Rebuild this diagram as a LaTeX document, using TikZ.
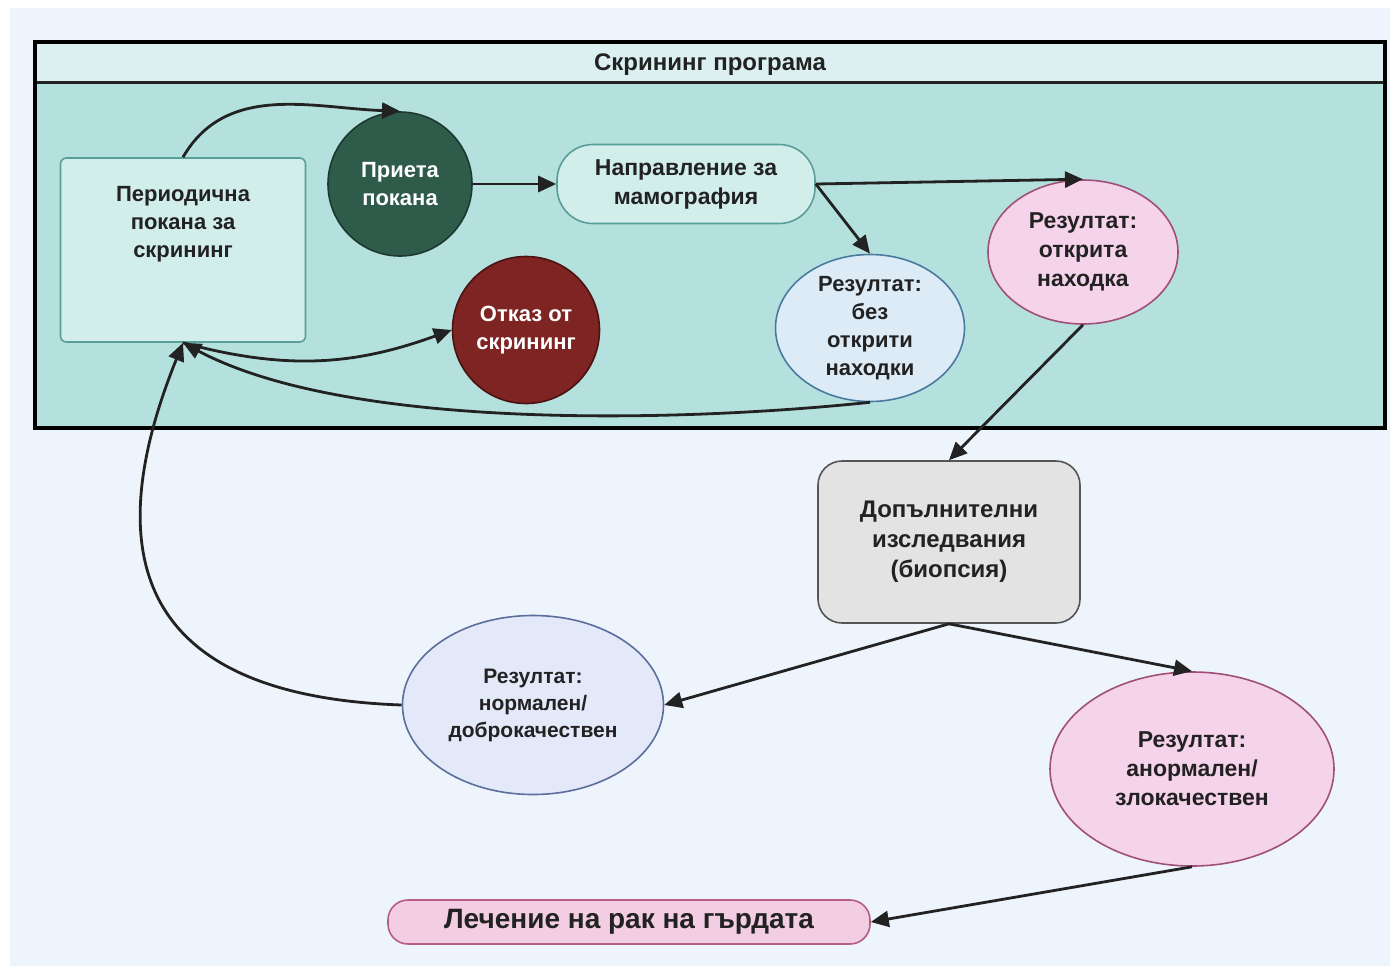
\documentclass[tikz,border=0pt]{standalone}
\usepackage{fontspec}
\setmainfont{Liberation Sans}
\usetikzlibrary{arrows.meta,shapes.geometric}
\definecolor{pagebg}{HTML}{EDF4FB}
\definecolor{bandbg}{HTML}{DCF0F1}
\definecolor{areabg}{HTML}{B4E1DD}
\definecolor{mintfill}{HTML}{D2EEEA}
\definecolor{mintline}{HTML}{5A9E98}
\definecolor{pinefill}{HTML}{2E5B4A}
\definecolor{pineline}{HTML}{1E3A30}
\definecolor{wine}{HTML}{7E2523}
\definecolor{wineline}{HTML}{4A1212}
\definecolor{skyfill}{HTML}{DDEBF7}
\definecolor{skyline}{HTML}{4A7AA0}
\definecolor{rosefill}{HTML}{F5D3EA}
\definecolor{roseline}{HTML}{A05078}
\definecolor{greyfill}{HTML}{E3E3E3}
\definecolor{greyline}{HTML}{555555}
\definecolor{lilacfill}{HTML}{E3E9F8}
\definecolor{lilacline}{HTML}{5B6E9C}
\definecolor{curefill}{HTML}{F3CDE2}
\definecolor{cureline}{HTML}{B55C88}
\definecolor{ink}{HTML}{222222}
\tikzset{
  txt/.style={font=\bfseries\fontsize{11}{14}\selectfont, align=center, text=ink},
  boxnode/.style={txt, draw, line width=0.8pt, inner sep=2pt},
  blob/.style={txt, ellipse, draw, line width=0.8pt, inner sep=0pt},
  flow/.style={line width=1.4pt, draw=ink, -{Triangle[length=9pt,width=8pt]}}
}

\begin{document}
\begin{tikzpicture}[x=0.5pt,y=-0.5pt]
\useasboundingbox (0,0) rectangle (1397,970);
\fill [white] (0,0) rectangle (1397,970);
\fill [pagebg] (10,8) rectangle (1390,966);
\fill [areabg] (35,42) rectangle (1385,428);
\fill [bandbg] (35,42) rectangle (1385,82);
\draw [line width=1.5pt, draw=ink] (35,82) -- (1385,82);
\draw [line width=2pt, draw=black] (35,42) rectangle (1385,428);
\node [txt, font=\bfseries\fontsize{12}{14}\selectfont] (title) at (710,65) {Скрининг програма};

\node [boxnode, fill=mintfill, draw=mintline, rounded corners=3pt, minimum width=122.5pt, minimum height=92pt] (periodic) at (183,250) {Периодична\\покана за\\скрининг\\~\\~};
\node [blob, circle, fill=pinefill, draw=pineline, text=white, minimum size=72pt] (accepted) at (400,184) {Приета\\покана};
\node [boxnode, fill=mintfill, draw=mintline, rounded corners=18pt, minimum width=129pt, minimum height=39.5pt, font=\bfseries\fontsize{11.5}{14.5}\selectfont] (mammo) at (686,184) {Направление за\\мамография};
\node [blob, fill=rosefill, draw=roseline, minimum width=95pt, minimum height=72pt, font=\bfseries\fontsize{11.5}{14.5}\selectfont] (positive) at (1083,252) {Резултат:\\открита\\находка};
\node [blob, fill=skyfill, draw=skyline, minimum width=94.5pt, minimum height=73.5pt] (negative) at (870,328) {Резултат:\\без\\открити\\находки};
\node [blob, circle, fill=wine, draw=wineline, text=white, minimum size=73.5pt] (refusal) at (526,330) {Отказ от\\скрининг};

\node [boxnode, fill=greyfill, draw=greyline, rounded corners=12pt, minimum width=131pt, minimum height=81pt, font=\bfseries\fontsize{12}{15}\selectfont] (biopsy) at (949,542) {Допълнителни\\изследвания\\(биопсия)};
\node [blob, fill=lilacfill, draw=lilacline, minimum width=130.5pt, minimum height=89.5pt, font=\bfseries\fontsize{10.5}{13.5}\selectfont] (normal) at (533,705) {Резултат:\\нормален/\\доброкачествен};
\node [blob, fill=rosefill, draw=roseline, minimum width=142pt, minimum height=97pt, font=\bfseries\fontsize{11.5}{14.5}\selectfont] (abnormal) at (1192,769) {Резултат:\\анормален/\\злокачествен};
\node [boxnode, fill=curefill, draw=cureline, rounded corners=10pt, minimum width=241pt, minimum height=22pt, font=\bfseries\fontsize{14}{16}\selectfont] (cure) at (629,922) {Лечение на рак на гърдата};

\draw [flow] (periodic.north) to[out=60, in=178] (accepted.north);
\draw [flow] (accepted.east) -- (mammo.west);
\draw [flow] (mammo.east) -- (positive.north);
\draw [flow] (mammo.east) -- (negative.north);
\draw [flow] (periodic.south) to[out=-15, in=200] (refusal.west);
\draw [flow] (negative.south) to[out=186, in=-28, looseness=0.7] (periodic.south);
\draw [flow] (positive.south) -- (biopsy.north);
\draw [flow] (biopsy.south) -- (normal.east);
\draw [flow] (biopsy.south) -- (abnormal.north);
\draw [flow] (abnormal.south) -- (cure.east);
\draw [flow] (normal.west) to[out=178, in=-112, looseness=1.5] (periodic.south);
\end{tikzpicture}
\end{document}
